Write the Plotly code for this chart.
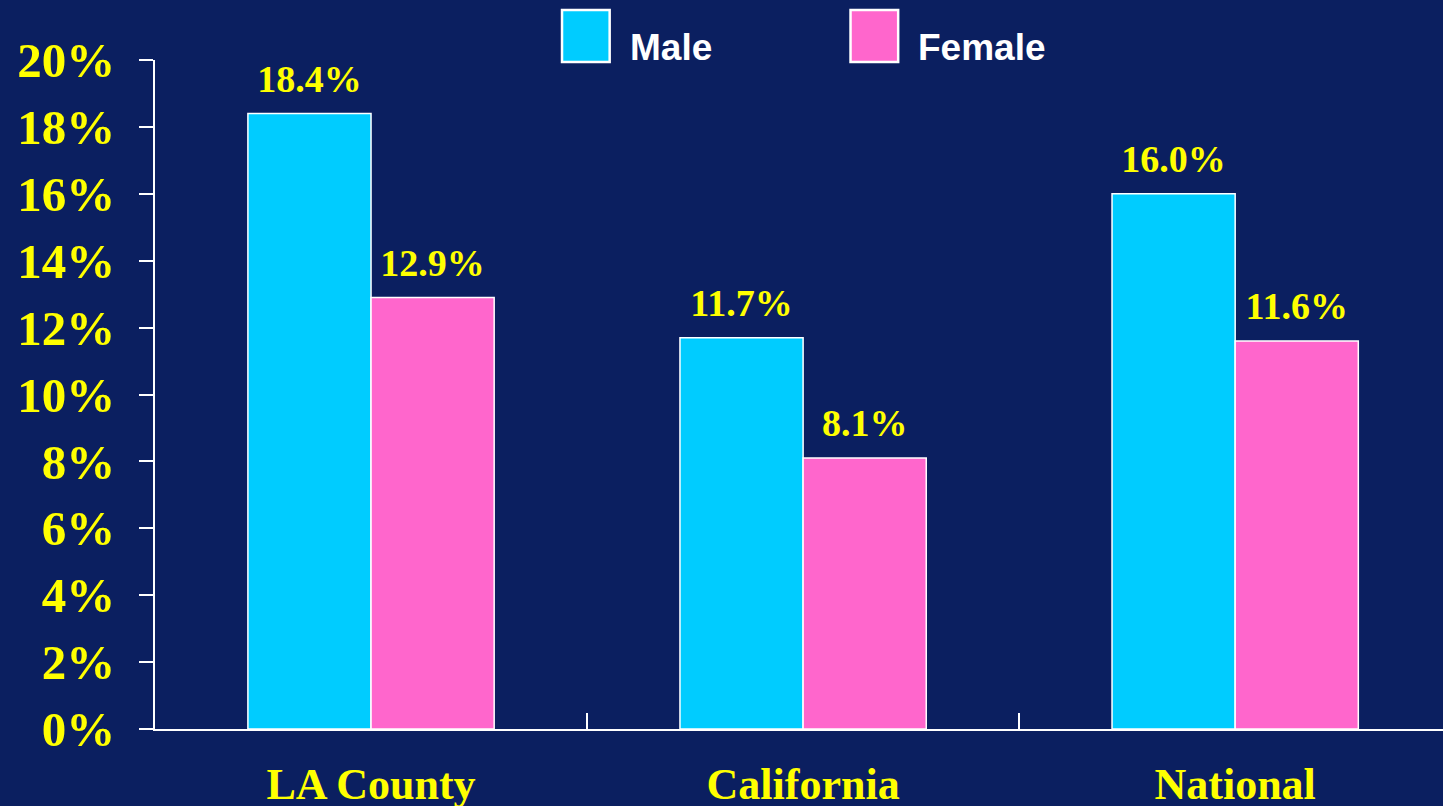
import plotly.graph_objects as go

# data
regions = ["LA County", "California", "National"]
male = [18.4, 11.7, 16.0]
female = [12.9, 8.1, 11.6]
y_ticks = [0, 2, 4, 6, 8, 10, 12, 14, 16, 18, 20]

BG = "#0B1F60"
CYAN = "#00CCFF"
PINK = "#FF66CC"
YELLOW = "#FFFF00"
SERIF = "Liberation Serif, Times New Roman, serif"
SANS = "Liberation Sans, Arial, sans-serif"

fig = go.Figure()
for name, vals, col in [("Male", male, CYAN), ("Female", female, PINK)]:
  fig.add_trace(go.Bar(
    x=regions, y=vals, name=name,
    marker=dict(color=col, line=dict(color="white", width=1.5)),
    # tiny blank second line lifts the label a bit off the bar top
    texttemplate="<span style='font-size:38px'>%{y:.1f}%</span><br> ",
    textposition="outside",
    textfont=dict(family=SERIF, size=12, color=YELLOW, weight="bold"),
    constraintext="none", cliponaxis=False,
  ))

# legend drawn by hand so the swatches can be large like the original
legend_items = [("Male", CYAN, 0.316), ("Female", PINK, 0.540)]
shapes, annos = [], []
for name, col, x0 in legend_items:
  shapes.append(dict(type="rect", xref="paper", yref="paper",
                     x0=x0, x1=x0 + 0.037, y0=0.997, y1=1.0747,
                     fillcolor=col, line=dict(color="white", width=2.5)))
  annos.append(dict(text=name, xref="paper", yref="paper", x=x0 + 0.051, y=1.019,
                    xanchor="left", yanchor="middle", showarrow=False,
                    font=dict(family=SANS, size=37, color="white", weight="bold")))

fig.update_layout(
  width=1443, height=806,
  paper_bgcolor=BG, plot_bgcolor=BG,
  margin=dict(l=155, r=0, t=60, b=77),
  barmode="group", bargap=0.43, bargroupgap=0,
  showlegend=False,
  shapes=shapes, annotations=annos,
  xaxis=dict(range=[-0.5, 2.481], showline=True, linecolor="white", linewidth=2,
             ticks="inside", tickson="boundaries", ticklen=16, tickwidth=2,
             tickcolor="white", showgrid=False, automargin=False,
             tickfont=dict(family=SERIF, size=44, color=YELLOW, weight="bold"),
             ticklabelstandoff=15),
  yaxis=dict(range=[0, 20], tickvals=y_ticks, ticktext=[f"{v}%" for v in y_ticks],
             showline=True, linecolor="white", linewidth=2, ticks="outside",
             ticklen=14, tickwidth=2, tickcolor="white", showgrid=False,
             zeroline=False, automargin=False,
             tickfont=dict(family=SERIF, size=49, color=YELLOW, weight="bold"),
             ticklabelstandoff=14),
)

# page body has a default 8px margin; drop it so the figure sits at the corner
fig.write_html("out.html", config={"displayModeBar": False},
               post_script="document.body.style.margin='0';")
